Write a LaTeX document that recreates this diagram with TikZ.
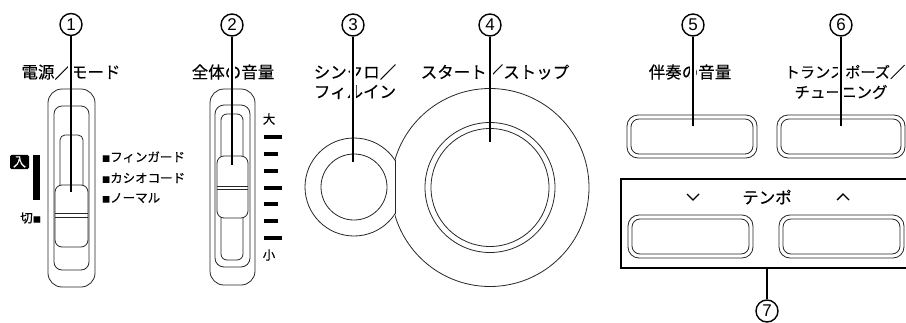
\documentclass[tikz,border=0pt]{standalone}
\usepackage{fontspec}
\setmainfont{Noto Sans CJK JP}[FakeBold=0.25]
\newfontfamily\numfont{Liberation Sans}
\begin{document}
\begin{tikzpicture}[x=1pt,y=-1pt,
  outl/.style={line width=0.8pt, draw=black!85},
  num/.style={circle, draw, line width=1.4pt, minimum size=22pt, inner sep=0pt, font=\numfont\fontsize{17}{17}\selectfont},
  lbl/.style={font=\fontsize{16.5}{20}\selectfont, inner sep=0pt},
  smalllbl/.style={font=\fontsize{12.5}{12.5}\selectfont, inner sep=0pt},
  leader/.style={line width=2.6pt, line cap=butt},
  halo/.style={line width=6pt, draw=white},
  scalebar/.style={line width=4pt},
  knobfill/.style={outl, fill=white}
]
\useasboundingbox (0,0) rectangle (906,322);

% ---------------- labels ----------------
\node[lbl] (l1) at (71,72) {電源／モード};
\node[lbl] (l2) at (233,72) {全体の音量};
\node[lbl] (l3a) at (355,72) {シンクロ／};
\node[lbl] (l3b) at (355,92) {フィルイン};
\node[lbl] (l4) at (495,72) {スタート／ストップ};
\node[lbl] (l5) at (690,72) {伴奏の音量};
\node[lbl, font=\fontsize{15.2}{18}\selectfont] (l6a) at (845,72) {トランスポーズ／};
\node[lbl, font=\fontsize{15.5}{18}\selectfont] (l6b) at (841,92) {チューニング};

% ---------------- slider 1 ----------------
\draw[outl, rounded corners=14pt] (48,89) rectangle (95,287);
\draw[outl, rounded corners=8pt] (54,106) rectangle (89,270);
\draw[outl, rounded corners=5pt] (60,135) rectangle (83,240);
\draw[knobfill, rounded corners=7pt] (55,185) rectangle (88,247);
\draw[outl] (55,213) -- (88,213) (55,217) -- (88,217);
\coordinate (t1) at (71,192);

\node[fill=black, text=white, rounded corners=1.5pt, inner xsep=3pt, inner ysep=1.5pt, font=\fontsize{13}{13}\selectfont] (in) at (19.5,162) {入};
\fill (33,155) rectangle (40,200);
\node[smalllbl, anchor=east] (off) at (41,218) {切{\fontsize{8}{8}\selectfont ■}};
\node[smalllbl, anchor=west] (m1) at (102,157) {{\fontsize{8}{8}\selectfont ■}フィンガード};
\node[smalllbl, anchor=west] (m2) at (102,178) {{\fontsize{8}{8}\selectfont ■}カシオコード};
\node[smalllbl, anchor=west] (m3) at (102,198) {{\fontsize{8}{8}\selectfont ■}ノーマル};

% ---------------- slider 2 ----------------
\draw[outl, rounded corners=14pt] (210,89) rectangle (255,285);
\draw[outl, rounded corners=9pt] (215,105) rectangle (250,267);
\draw[outl, rounded corners=6pt] (221,114) rectangle (243,260);
\draw[knobfill, rounded corners=7pt] (217,156) rectangle (248,218);
\draw[outl] (217,186) -- (248,186) (217,189.5) -- (248,189.5);
\coordinate (t2) at (232,165);

\node[smalllbl] (big) at (269,119) {大};
\node[smalllbl] (small) at (269,255) {小};
\draw[scalebar] (264,137) -- (282,137);
\draw[scalebar] (264,154) -- (278,154);
\draw[scalebar] (264,171) -- (278,171);
\draw[scalebar] (264,188) -- (282,188);
\draw[scalebar] (264,204) -- (278,204);
\draw[scalebar] (264,221) -- (278,221);
\draw[scalebar] (264,238) -- (282,238);

% ---------------- circles 3 / 4 ----------------
\begin{scope}
  \clip (290,100) rectangle (395,280);
  \draw[outl] (354,187) circle[radius=49];
\end{scope}
\draw[outl] (354,187) circle[radius=33];
\begin{scope}
  \clip (395,80) rectangle (600,300);
  \draw[outl] (490,187.5) circle[radius=99];
\end{scope}
\draw[outl] (395,160) -- (395,214);
\draw[outl] (490,187.5) circle[radius=65];
\draw[outl] (490,187.5) circle[radius=59];
\coordinate (t3) at (353,162);
\coordinate (t4) at (490,142);

% ---------------- buttons 5 / 6 ----------------
\draw[outl, rounded corners=11pt] (627,115) rectangle (757,158);
\draw[outl, rounded corners=8pt] (631,119) rectangle (753,154);
\draw[outl, rounded corners=11pt] (777,115) rectangle (905,158);
\draw[outl, rounded corners=8pt] (781,119) rectangle (901,154);
\coordinate (t5) at (693,126);
\coordinate (t6) at (841,126);

% ---------------- tempo ----------------
\draw[line width=2pt] (907,179) -- (621,179) -- (621,268) -- (907,268);
\draw[line width=1.4pt] (687,194) -- (693,200) -- (699,194);
\node[lbl] (tempo) at (767,197) {テンポ};
\draw[line width=1.4pt] (837,200) -- (843,194) -- (849,200);
\draw[outl, rounded corners=11pt] (628,215) rectangle (753,258);
\draw[outl, rounded corners=8pt] (632,219) rectangle (749,254);
\draw[outl, rounded corners=11pt] (779,215) rectangle (904,258);
\draw[outl, rounded corners=8pt] (783,219) rectangle (900,254);
\coordinate (t7) at (767,268);

% ---------------- numbers ----------------
\node[num] (n1) at (71,24.5) {1};
\node[num] (n2) at (232,25) {2};
\node[num] (n3) at (353,25) {3};
\node[num] (n4) at (490,25) {4};
\node[num] (n5) at (693,25) {5};
\node[num] (n6) at (841,25) {6};
\node[num] (n7) at (767,311) {7};

% ---------------- leaders ----------------
\draw[halo] (71,62) -- (71,82);
\draw[halo] (232,62) -- (232,82);
\draw[halo] (353,62) -- (353,102);
\draw[halo] (490,62) -- (490,82);
\draw[halo] (693,62) -- (693,82);
\draw[halo] (841,62) -- (841,102);
\draw[leader] (n1.south) -- (t1);
\draw[leader] (n2.south) -- (t2);
\draw[leader] (n3.south) -- (t3);
\draw[leader] (n4.south) -- (t4);
\draw[leader] (n5.south) -- (t5);
\draw[leader] (n6.south) -- (t6);
\draw[leader] (t7) -- (n7.north);
\end{tikzpicture}
\end{document}
